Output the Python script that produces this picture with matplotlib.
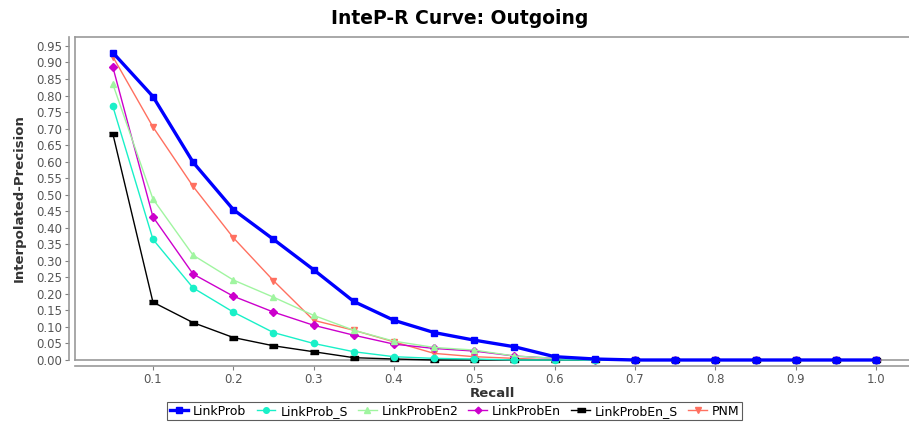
import numpy as np
import matplotlib
matplotlib.use('Agg')
import matplotlib.pyplot as plt
from matplotlib.lines import Line2D

recall = [0.05, 0.1, 0.15, 0.2, 0.25, 0.3, 0.35, 0.4, 0.45, 0.5,
          0.55, 0.6, 0.65, 0.7, 0.75, 0.8, 0.85, 0.9, 0.95, 1.0]

link_prob = [0.930, 0.797, 0.598, 0.455, 0.365, 0.273, 0.177, 0.120, 0.083, 0.060,
             0.040, 0.010, 0.003, 0, 0, 0, 0, 0, 0, 0]
link_prob_s = [0.768, 0.365, 0.218, 0.145, 0.083, 0.050, 0.025, 0.010, 0.005, 0.003,
               0, 0, 0, 0, 0, 0, 0, 0, 0, 0]
link_prob_en2 = [0.835, 0.487, 0.317, 0.242, 0.190, 0.135, 0.090, 0.057, 0.038, 0.030,
                 0.012, 0.005, 0, 0, 0, 0, 0, 0, 0, 0]
link_prob_en = [0.887, 0.433, 0.260, 0.193, 0.145, 0.105, 0.075, 0.048, 0.035, 0.027,
                0.012, 0.005, 0, 0, 0, 0, 0, 0, 0, 0]
link_prob_en_s = [0.685, 0.175, 0.113, 0.068, 0.043, 0.025, 0.007, 0.003, 0, 0,
                  0, 0, 0, 0, 0, 0, 0, 0, 0, 0]
pnm = [0.918, 0.705, 0.525, 0.370, 0.240, 0.120, 0.090, 0.055, 0.020, 0.010,
       0.005, 0, 0, 0, 0, 0, 0, 0, 0, 0]

names = ['LinkProb', 'LinkProb_S', 'LinkProbEn2', 'LinkProbEn', 'LinkProbEn_S', 'PNM']
series = [link_prob, link_prob_s, link_prob_en2, link_prob_en, link_prob_en_s, pnm]
colors = ['#0000FF', '#19F0C8', '#A0F5A0', '#CC00CC', '#000000', '#FF7060']
bar_marker = [(-1, -0.45), (1, -0.45), (1, 0.45), (-1, 0.45)]
markers = ['s', 'o', '^', 'D', bar_marker, 'v']
msizes = [5, 4.5, 5, 3.8, 6, 5]
widths = [2.4, 1.0, 1.0, 1.0, 1.0, 1.0]

fig = plt.figure(figsize=(9.09, 4.23), dpi=100)
ax = fig.add_axes([75 / 909, 63 / 423, 834 / 909, 323 / 423])

for i in reversed(range(len(series))):
    ax.plot(recall, series[i], color=colors[i], marker=markers[i], markersize=msizes[i],
            linewidth=widths[i], label=names[i], zorder=10 - i, clip_on=False)

ax.set_xlim(0.003, 1.041)
ax.set_ylim(0.0, 0.977)
ax.set_xticks(np.arange(0.1, 1.01, 0.1))
ax.set_yticks(np.arange(0, 0.951, 0.05))
ax.xaxis.set_major_formatter(plt.FormatStrFormatter('%.1f'))
ax.yaxis.set_major_formatter(plt.FormatStrFormatter('%.2f'))
ax.tick_params(colors='#808080', labelcolor='#555555', labelsize=8.5, length=3, width=0.8, pad=2)

ax.spines['right'].set_visible(False)
ax.spines['top'].set_color('#999999')
ax.spines['top'].set_linewidth(1.2)
for s in ['left', 'bottom']:
    ax.spines[s].set_position(('outward', 4))
    ax.spines[s].set_color('#999999')
    ax.spines[s].set_linewidth(1.2)
# inner plot outline
ax.add_line(Line2D([0, 0], [0, 1], transform=ax.transAxes, color='#999999', lw=1.2, clip_on=False))
ax.add_line(Line2D([0, 1], [0, 0], transform=ax.transAxes, color='#999999', lw=1.2, clip_on=False))

ax.set_xlabel('Recall', fontsize=9.5, fontweight='bold', color='#333333', labelpad=1)
ax.set_ylabel('Interpolated-Precision', fontsize=9.5, fontweight='bold', color='#333333', labelpad=8)

fig.text(0.506, 0.957, 'InteP-R Curve: Outgoing', ha='center', va='center',
         fontsize=13.5, fontweight='bold')

handles, labels = ax.get_legend_handles_labels()
order = [labels.index(n) for n in names]
leg = fig.legend([handles[k] for k in order], [labels[k] for k in order],
                 loc='lower center', bbox_to_anchor=(0.5, -0.008), ncol=6, fontsize=9,
                 frameon=True, fancybox=False, edgecolor='#333333', handlelength=1.5,
                 handletextpad=0.4, columnspacing=0.8, borderpad=0.2, markerscale=0.9)
leg.get_frame().set_linewidth(0.8)

fig.savefig('out.png', dpi=100)
